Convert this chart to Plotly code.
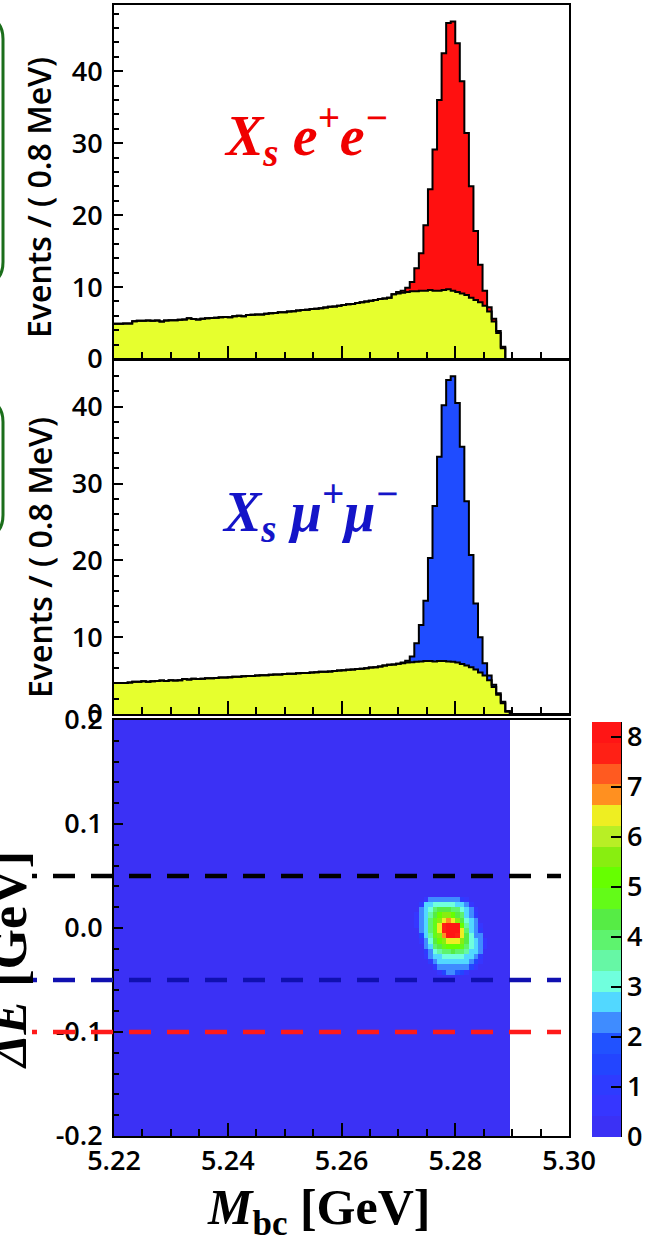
import numpy as np
import plotly.graph_objects as go

# ---------------- data ----------------
mbc_lo, mbc_hi, mbc_bin = 5.22, 5.30, 0.0008      # 100 bins of 0.8 MeV
de_lo, de_hi, de_bin = -0.2, 0.2, 0.005            # Delta E bins

# X_s e+e-  : background (yellow) and signal (red) per bin
ee_bkg = [4.9, 4.9, 4.95, 4.95, 5.25, 5.3, 5.3, 5.35, 5.3, 5.35,
          5.2, 5.35, 5.4, 5.4, 5.45, 5.5, 5.65, 5.55, 5.5, 5.6,
          5.65, 5.7, 5.75, 5.8, 5.85, 5.8, 5.95, 6.0, 5.95, 6.1,
          6.15, 6.2, 6.2, 6.3, 6.35, 6.4, 6.5, 6.5, 6.6, 6.65,
          6.75, 6.8, 6.85, 6.95, 7.0, 7.05, 7.15, 7.25, 7.3, 7.4,
          7.5, 7.6, 7.65, 7.8, 7.9, 8.0, 8.1, 8.2, 8.35, 8.4,
          8.5, 9.0, 9.1, 9.2, 9.3, 9.4, 9.4, 9.5, 9.5, 9.6,
          9.5, 9.5, 9.6, 9.7, 9.5, 9.3, 9.1, 8.9, 8.5, 8.2,
          7.9, 7.4, 6.6, 5.2, 3.6, 1.5, 0.0, 0.0, 0.0, 0.0,
          0.0, 0.0, 0.0, 0.0, 0.0, 0.0, 0.0, 0.0, 0.0, 0.0]
ee_sig = [0.0, 0.0, 0.0, 0.0, 0.0, 0.0, 0.0, 0.0, 0.0, 0.0,
          0.0, 0.0, 0.0, 0.0, 0.0, 0.0, 0.0, 0.0, 0.0, 0.0,
          0.0, 0.0, 0.0, 0.0, 0.0, 0.0, 0.0, 0.0, 0.0, 0.0,
          0.0, 0.0, 0.0, 0.0, 0.0, 0.0, 0.0, 0.0, 0.0, 0.0,
          0.0, 0.0, 0.0, 0.0, 0.0, 0.0, 0.0, 0.0, 0.0, 0.0,
          0.0, 0.0, 0.0, 0.0, 0.0, 0.0, 0.0, 0.0, 0.0, 0.0,
          0.0, 0.0, 0.2, 0.3, 0.6, 1.3, 3.2, 5.2, 9.1, 14.0,
          19.6, 26.5, 32.9, 37.0, 37.4, 34.6, 29.5, 22.5, 15.5, 9.6,
          5.2, 2.1, 0.6, 0.4, 0.3, 0.2, 0.0, 0.0, 0.0, 0.0,
          0.0, 0.0, 0.0, 0.0, 0.0, 0.0, 0.0, 0.0, 0.0, 0.0]

# X_s mu+mu- : background (yellow) and signal (blue) per bin
mm_bkg = [4.05, 4.05, 4.05, 4.1, 4.2, 4.2, 4.25, 4.2, 4.25, 4.3,
          4.35, 4.3, 4.4, 4.35, 4.4, 4.55, 4.5, 4.6, 4.55, 4.6,
          4.65, 4.65, 4.7, 4.75, 4.75, 4.8, 4.85, 4.85, 4.9, 4.95,
          4.95, 5.0, 5.05, 5.05, 5.1, 5.15, 5.15, 5.2, 5.25, 5.25,
          5.3, 5.35, 5.35, 5.4, 5.45, 5.5, 5.5, 5.55, 5.6, 5.65,
          5.7, 5.75, 5.8, 5.85, 5.9, 5.95, 6.05, 6.1, 6.2, 6.3,
          6.4, 6.45, 6.55, 6.6, 6.7, 6.75, 6.8, 6.85, 6.9, 6.9,
          6.85, 6.9, 6.9, 6.85, 6.8, 6.7, 6.5, 6.3, 6.1, 5.8,
          5.4, 5.0, 4.4, 3.5, 2.5, 1.4, 0.3, 0.0, 0.0, 0.0,
          0.0, 0.0, 0.0, 0.0, 0.0, 0.0, 0.0, 0.0, 0.0, 0.0]
mm_sig = [0.0, 0.0, 0.0, 0.0, 0.0, 0.0, 0.0, 0.0, 0.0, 0.0,
          0.0, 0.0, 0.0, 0.0, 0.0, 0.0, 0.0, 0.0, 0.0, 0.0,
          0.0, 0.0, 0.0, 0.0, 0.0, 0.0, 0.0, 0.0, 0.0, 0.0,
          0.0, 0.0, 0.0, 0.0, 0.0, 0.0, 0.0, 0.0, 0.0, 0.0,
          0.0, 0.0, 0.0, 0.0, 0.0, 0.0, 0.0, 0.0, 0.0, 0.0,
          0.0, 0.0, 0.0, 0.0, 0.0, 0.0, 0.0, 0.0, 0.0, 0.0,
          0.0, 0.0, 0.0, 0.1, 0.25, 0.75, 2.4, 4.75, 7.85, 13.4,
          20.25, 26.6, 33.3, 36.65, 37.2, 33.8, 28.3, 21.4, 14.6, 8.6,
          4.6, 1.6, 0.6, 0.3, 0.2, 0.2, 0.1, 0.0, 0.0, 0.0,
          0.0, 0.0, 0.0, 0.0, 0.0, 0.0, 0.0, 0.0, 0.0, 0.0]

# 2D (Mbc, Delta E) map: flat level plus the signal blob
map_columns = 87            # filled Mbc bins (up to ~5.2896 GeV)
map_level = 0.3
blob_col0, blob_row_top = 66, 45    # first Mbc bin, Delta E row of the top blob row
blob = [  # rows from Delta E = 0.025 down to -0.045, columns Mbc bins 66..82
    [0.3, 0.3, 0.6, 2.2, 2.3, 2.4, 2.4, 2.3, 2.2, 2.1, 1.2, 0.5, 0.3, 0.3, 0.3, 0.3, 0.3],
    [0.3, 1.2, 2.6, 2.8, 3.0, 3.2, 3.3, 3.2, 3.0, 2.8, 2.6, 2.2, 0.8, 0.3, 0.3, 0.3, 0.3],
    [0.4, 2.1, 2.7, 3.3, 3.9, 4.3, 4.5, 4.4, 4.1, 3.8, 3.2, 2.6, 2.1, 0.6, 0.3, 0.3, 0.3],
    [0.5, 2.2, 2.8, 3.5, 4.3, 5.0, 5.4, 5.4, 5.0, 4.4, 3.8, 2.8, 2.3, 1.0, 0.3, 0.3, 0.3],
    [0.6, 2.2, 2.9, 3.8, 4.6, 5.6, 6.4, 6.8, 6.5, 5.6, 4.2, 3.2, 2.5, 2.1, 0.4, 0.3, 0.3],
    [0.5, 2.2, 2.9, 3.9, 4.8, 6.3, 7.6, 8.2, 8.2, 8.0, 5.0, 3.6, 2.7, 2.2, 0.6, 0.3, 0.3],
    [0.4, 2.1, 2.8, 3.9, 4.9, 6.4, 7.8, 8.3, 8.3, 8.2, 6.4, 4.0, 2.9, 2.3, 1.0, 0.3, 0.3],
    [0.3, 1.6, 2.6, 3.7, 4.7, 5.8, 7.0, 8.0, 8.2, 7.6, 6.3, 4.4, 3.0, 2.4, 2.1, 0.4, 0.3],
    [0.3, 0.8, 2.3, 3.2, 4.2, 5.0, 5.8, 6.4, 6.6, 6.3, 5.4, 4.3, 3.1, 2.5, 2.1, 0.5, 0.3],
    [0.3, 0.4, 2.1, 2.8, 3.8, 4.4, 4.8, 5.2, 5.3, 5.1, 4.6, 3.9, 3.0, 2.6, 2.1, 0.5, 0.3],
    [0.3, 0.3, 1.0, 2.4, 3.0, 3.6, 3.9, 4.1, 4.2, 4.1, 3.8, 3.4, 2.8, 2.5, 2.1, 0.4, 0.3],
    [0.3, 0.3, 0.5, 2.1, 2.6, 2.9, 3.2, 3.3, 3.3, 3.2, 3.0, 2.8, 2.6, 2.2, 1.2, 0.3, 0.3],
    [0.3, 0.3, 0.3, 1.0, 2.2, 2.5, 2.6, 2.7, 2.7, 2.7, 2.6, 2.5, 2.2, 1.6, 0.5, 0.3, 0.3],
    [0.3, 0.3, 0.3, 0.4, 1.2, 2.1, 2.2, 2.3, 2.3, 2.3, 2.2, 2.1, 1.4, 0.6, 0.3, 0.3, 0.3],
    [0.3, 0.3, 0.3, 0.3, 0.4, 0.8, 1.6, 2.1, 2.1, 2.0, 1.4, 0.6, 0.3, 0.3, 0.3, 0.3, 0.3],
]
z_max = 8.3
palette = ["#3b31f5", "#3636ff", "#2e3bff", "#2345ff", "#2152ff", "#3f8cff",
           "#52d8ff", "#70ffdd", "#66f7a5", "#5ef36e", "#56ec45", "#63fb18",
           "#66ff00", "#88ee10", "#b8ef25", "#eeee22", "#ff9020", "#ff5a20",
           "#ff2015", "#ff1515"]

y_ticks_hist = [0, 10, 20, 30, 40]
de_ticks = [-0.2, -0.1, 0.0, 0.1, 0.2]
de_ticktext = ["-0.2", "-0.1", "0.0", "0.1", "0.2"]
mbc_ticks = [5.22, 5.24, 5.26, 5.28, 5.30]
mbc_ticktext = ["5.22", "5.24", "5.26", "5.28", "5.30"]
cut_lines = [0.05, -0.05, -0.10]
cut_colors = ["#000000", "#1010b0", "#ff1a1a"]

# ---------------- geometry ----------------
W, H = 646, 1244
ML, MR, MT, MB = 114, 77, 5, 108
PW, PH = W - ML - MR, H - MT - MB


def px(p):
    return (p - ML) / PW


def py(p):
    return (H - MB - p) / PH


FONT = "Open Sans"
YEL, RED, BLU = "#e6ff2e", "#ff1010", "#1f4cff"
TICKFONT = dict(family=FONT, size=27, color="black", weight=600)

edges = mbc_lo + mbc_bin * np.arange(len(ee_bkg) + 1)


def step_y(vals):
    v = list(vals)
    return v + [v[-1]]


fig = go.Figure()


def add_hist(bkg, sig, color, xa, ya):
    tot = (np.array(bkg) + np.array(sig)).tolist()
    common = dict(x=edges, mode="lines", line_shape="hv", xaxis=xa, yaxis=ya,
                  showlegend=False, hoverinfo="skip")
    fig.add_trace(go.Scatter(y=step_y(tot), fill="tozeroy", fillcolor=color,
                             line=dict(width=0, color=color), **common))
    fig.add_trace(go.Scatter(y=step_y(bkg), fill="tozeroy", fillcolor=YEL,
                             line=dict(width=0, color=YEL), **common))
    fig.add_trace(go.Scatter(y=step_y(tot), line=dict(width=2, color="black"), **common))
    fig.add_trace(go.Scatter(y=step_y(bkg), line=dict(width=2, color="black"), **common))


add_hist(ee_bkg, ee_sig, RED, "x", "y")
add_hist(mm_bkg, mm_sig, BLU, "x2", "y2")

# 2D map
n_rows = int(round((de_hi - de_lo) / de_bin))
z = np.full((n_rows, map_columns), map_level)
for i, row in enumerate(blob):
    r = blob_row_top - i
    z[r, blob_col0:blob_col0 + len(row)] = row
x_map = mbc_lo + mbc_bin * np.arange(map_columns + 1)
y_map = de_lo + de_bin * np.arange(n_rows + 1)

cs = []
n = len(palette)
for i, c in enumerate(palette):
    cs.append([i / n, c])
    cs.append([(i + 1) / n, c])

fig.add_trace(go.Heatmap(
    z=z, x=x_map, y=y_map, colorscale=cs, zmin=0, zmax=z_max,
    xaxis="x3", yaxis="y3", hoverinfo="skip",
    colorbar=dict(x=px(592), xanchor="left", xpad=0, ypad=0,
                  y=py(722), yanchor="top", len=415, lenmode="pixels",
                  thickness=29, thicknessmode="pixels", outlinewidth=0,
                  tickvals=list(range(0, 9)), ticks="inside", ticklen=10,
                  tickwidth=2, tickcolor="black", tickfont=TICKFONT)))

axis_common = dict(showline=True, linecolor="black", linewidth=2, mirror=True,
                   showgrid=False, zeroline=False, ticks="inside",
                   tickcolor="black", tickwidth=1.5, tickfont=TICKFONT)
xcommon = dict(axis_common, range=[mbc_lo, mbc_hi], tickvals=mbc_ticks,
               ticklen=13, minor=dict(ticks="inside", dtick=0.005, tick0=5.22,
                                      ticklen=7, tickcolor="black", tickwidth=1.5))
ycommon = dict(axis_common, ticklen=9, ticklabelstandoff=4,
               minor=dict(ticks="inside", dtick=2, ticklen=5,
                          tickcolor="black", tickwidth=1.5))

fig.update_layout(
    width=W, height=H, margin=dict(l=ML, r=MR, t=MT, b=MB, autoexpand=False),
    paper_bgcolor="white", plot_bgcolor="white",
    xaxis=dict(xcommon, anchor="y", showticklabels=False),
    xaxis2=dict(xcommon, anchor="y2", showticklabels=False),
    xaxis3=dict(xcommon, anchor="y3", ticktext=mbc_ticktext),
    yaxis=dict(ycommon, domain=[py(359), 1.0], range=[0, 49.2], tickvals=y_ticks_hist),
    yaxis2=dict(ycommon, domain=[py(714), py(360)], range=[0, 46.1], tickvals=y_ticks_hist),
    yaxis3=dict(axis_common, domain=[0, py(720)], range=[de_lo, de_hi],
                tickvals=de_ticks, ticktext=de_ticktext, ticklen=9, ticklabelstandoff=4,
                minor=dict(ticks="inside", dtick=0.02, tick0=0, ticklen=5,
                           tickcolor="black", tickwidth=1.5)),
)

ann = []
ytitle_font = dict(family=FONT, size=32, color="black", weight=600)
ann.append(dict(text="Events / ( 0.8 MeV)", x=px(39), y=py(198), xref="paper", yref="paper",
                textangle=-90, showarrow=False, font=ytitle_font,
                xanchor="center", yanchor="middle"))
ann.append(dict(text="Events / ( 0.8 MeV)", x=px(39), y=py(558), xref="paper", yref="paper",
                textangle=-90, showarrow=False, font=ytitle_font,
                xanchor="center", yanchor="middle"))
ann.append(dict(text="<b><i>X<sub>s</sub> e<sup>+</sup>e<sup>−</sup></i></b>",
                x=px(222), y=py(135), xref="paper", yref="paper", showarrow=False,
                xanchor="left", yanchor="middle",
                font=dict(family="Liberation Serif", size=56, color="#f00000")))
ann.append(dict(text="<b><i>X<sub>s</sub> μ<sup>+</sup>μ<sup>−</sup></i></b>",
                x=px(220), y=py(511), xref="paper", yref="paper", showarrow=False,
                xanchor="left", yanchor="middle",
                font=dict(family="Liberation Serif", size=56, color="#1414c8")))
ann.append(dict(text="<b><i>M</i><sub>bc</sub> [GeV]</b>",
                x=px(318), y=py(1211), xref="paper", yref="paper", showarrow=False,
                xanchor="center", yanchor="middle",
                font=dict(family="Liberation Serif", size=50, color="black")))
ann.append(dict(text="<b><i>ΔE</i> [GeV]</b>", textangle=-90,
                x=px(8), y=py(960), xref="paper", yref="paper", showarrow=False,
                xanchor="center", yanchor="middle",
                font=dict(family="Liberation Serif", size=52, color="black")))
fig.update_layout(annotations=ann)

shapes = []
dash = "5px,16px," + ",".join(["22px,16px"] * 16)
for v, c in zip(cut_lines, cut_colors):
    shapes.append(dict(type="line", xref="paper", yref="y3", x0=px(32), x1=px(561),
                       y0=v, y1=v, line=dict(color=c, width=4.5, dash=dash), layer="above"))
# colour bar axis line
shapes.append(dict(type="line", xref="paper", yref="paper", x0=px(621), x1=px(621),
                   y0=py(722), y1=py(1137), line=dict(color="black", width=2)))
# cut-off green rounded frames at the left edge
for top, bot in [(17, 284), (400, 537)]:
    r = 22
    path = (f"M {px(-30)},{py(top)} L {px(3 - r)},{py(top)} "
            f"Q {px(3)},{py(top)} {px(3)},{py(top + r)} "
            f"L {px(3)},{py(bot - r)} Q {px(3)},{py(bot)} {px(3 - r)},{py(bot)} "
            f"L {px(-30)},{py(bot)}")
    shapes.append(dict(type="path", xref="paper", yref="paper", path=path,
                       line=dict(color="#1b6e1b", width=3)))
fig.update_layout(shapes=shapes)

fig.write_html("out.html")
